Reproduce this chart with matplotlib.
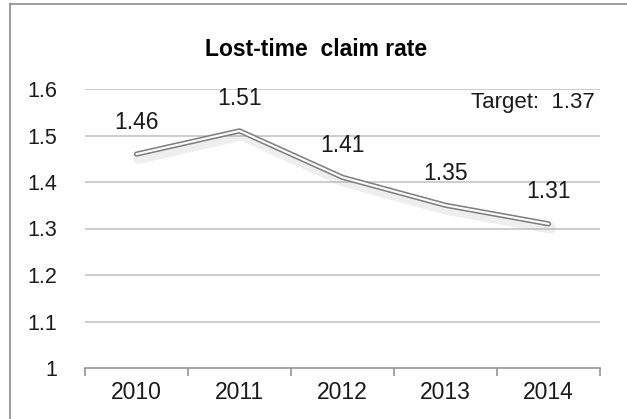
import matplotlib.pyplot as plt
import matplotlib.patheffects as pe
from matplotlib.lines import Line2D

years = ['2010', '2011', '2012', '2013', '2014']
rates = [1.46, 1.51, 1.41, 1.35, 1.31]
target = 1.37
yticks = [1, 1.1, 1.2, 1.3, 1.4, 1.5, 1.6]

plt.rcParams['font.family'] = 'Liberation Sans'
W, H = 627, 419
fig = plt.figure(figsize=(W / 100, H / 100), dpi=100)

# outer frame (top and left edges visible)
fig.add_artist(Line2D([10 / W, 1], [1 - 4 / H, 1 - 4 / H], color='#8c8c8c', lw=1.2))
fig.add_artist(Line2D([10 / W, 10 / W], [0, 1 - 4 / H], color='#8c8c8c', lw=1.2))

ax = fig.add_axes([85 / W, 1 - 368 / H, 515 / W, 279 / H])
x = list(range(len(years)))

for yy in yticks[1:]:
    ax.axhline(yy, color='#c0c0c0', lw=1.1, zorder=1)

ax.plot(x, rates, color='#808080', lw=3.8, solid_capstyle='round', zorder=3,
        path_effects=[pe.SimpleLineShadow(offset=(1.5, -3), shadow_color='#aaaaaa', alpha=0.2, linewidth=8),
                      pe.Normal()])
ax.plot(x, rates, color='white', lw=1.5, solid_capstyle='round', zorder=4)

for xi, v in zip(x, rates):
    ax.annotate(f'{v:.2f}', (xi, v), xytext=(0, 23), textcoords='offset points',
                ha='center', va='center', fontsize=16.5, color='#1a1a1a')

ax.text(4.45, 1.57, f'Target:  {target}', ha='right', va='center', fontsize=16, color='#1a1a1a')

ax.set_xlim(-0.5, 4.5)
ax.set_ylim(1, 1.6)
ax.set_xticks(x)
ax.set_xticklabels(years, fontsize=16.5, color='#1a1a1a')
ax.set_xticks([i - 0.5 for i in range(len(years) + 1)], minor=True)
ax.tick_params(axis='x', which='major', length=0, pad=9)
ax.tick_params(axis='x', which='minor', length=6, color='#8c8c8c', width=1.1, direction='out')
ax.set_yticks(yticks)
ax.set_yticklabels(['1', '1.1', '1.2', '1.3', '1.4', '1.5', '1.6'], fontsize=15.5, color='#1a1a1a')
ax.tick_params(axis='y', length=0, pad=20)

for s in ['top', 'right', 'left']:
    ax.spines[s].set_visible(False)
ax.spines['bottom'].set_color('#8c8c8c')
ax.spines['bottom'].set_linewidth(1.1)

fig.text(316 / W, 1 - 50 / H, 'Lost-time  claim rate', ha='center', va='center',
         fontsize=16.5, fontweight='bold', color='black')

fig.savefig('out.png', dpi=100, facecolor='white')
